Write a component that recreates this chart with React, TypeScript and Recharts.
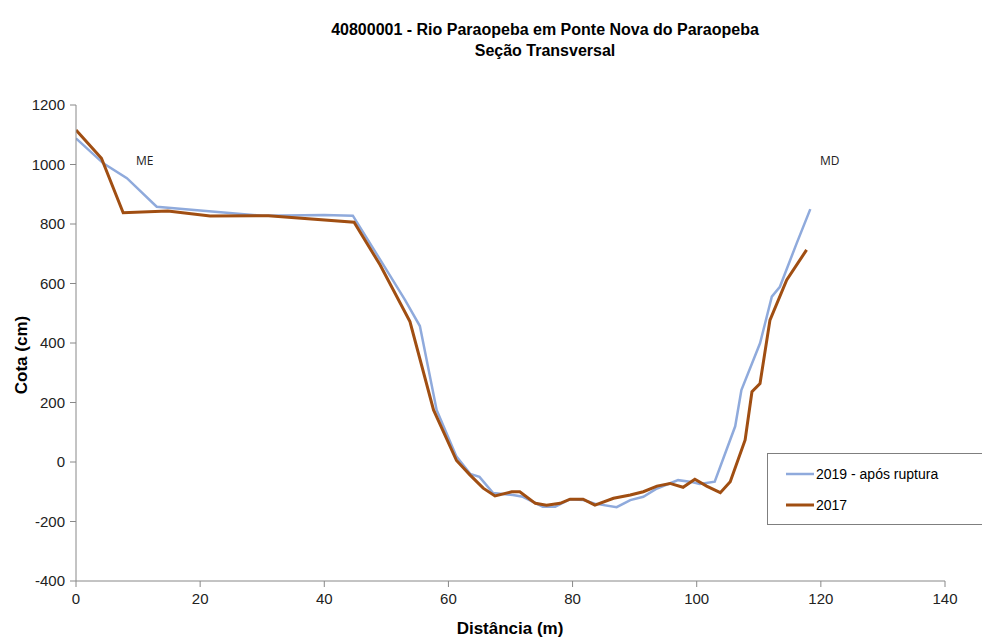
import { Line, LineChart, XAxis, YAxis } from "recharts";

const xTicks = [0, 20, 40, 60, 80, 100, 120, 140];
const yTicks = [-400, -200, 0, 200, 400, 600, 800, 1000, 1200];

// 2019 - após ruptura: [distância (m), cota (cm)]
const dist2019 = [
  0, 4.4, 8.2, 13, 20, 30, 40, 44.6, 49, 53, 55.4, 58.1, 61.3, 63.5, 65, 67.2, 70.4, 72, 75.2,
  77.2, 79.6, 81.7, 83.6, 87.1, 89.3, 91.4, 93.6, 97, 98.9, 100.5, 102.9, 106.2, 107.2, 110.2,
  112.1, 113.4, 116.1, 118.3,
];
const cota2019 = [
  1088, 1004, 954, 858, 845, 828, 830, 828, 680, 545, 457, 175, 18, -40, -50, -104, -111, -117,
  -150, -150, -125, -128, -140, -152, -128, -117, -89, -61, -66, -74, -66, 120, 242, 399, 556, 589,
  735, 850,
];

// 2017
const dist2017 = [
  0, 4.1, 7.6, 14.8, 21.6, 31, 44.8, 49, 53.8, 57.6, 61.3, 63.5, 65.6, 67.5, 70.2, 71.5, 74, 75.8,
  78, 79.6, 81.7, 83.6, 86.6, 89.3, 91.4, 93.6, 95.7, 97.8, 99.7, 101.6, 103.8, 105.4, 107.8, 108.9,
  110.2, 111.8, 114.5, 117.7,
];
const cota2017 = [
  1116, 1021, 838, 844, 827, 828, 806, 662, 472, 175, 5, -44, -88, -114, -100, -100, -139, -145,
  -139, -125, -125, -145, -122, -111, -100, -81, -72, -85, -58, -81, -103, -66, 74, 236, 264, 477,
  612, 713,
];

const serie2019 = dist2019.map((x, i) => ({ x, y: cota2019[i] }));
const serie2017 = dist2017.map((x, i) => ({ x, y: cota2017[i] }));

const BLUE = "#8FAADC";
const BROWN = "#A04E12";
const FONT = "'Liberation Sans', Arial, sans-serif";

function LegendBox() {
  const items = [
    { label: "2019 - após ruptura", color: BLUE, w: 2.5 },
    { label: "2017", color: BROWN, w: 3 },
  ];
  return (
    <div
      style={{
        position: "absolute",
        left: 767,
        top: 453,
        width: 220,
        boxSizing: "border-box",
        border: "1px solid #7f7f7f",
        background: "#fff",
        padding: "4px 0 4px 18px",
        fontFamily: FONT,
        fontSize: 14,
        color: "#000",
      }}
    >
      {items.map((it) => (
        <div key={it.label} style={{ display: "flex", alignItems: "center", height: 31 }}>
          <svg width={28} height={6} style={{ marginRight: 2 }}>
            <line x1={0} y1={3} x2={28} y2={3} stroke={it.color} strokeWidth={it.w} />
          </svg>
          <span>{it.label}</span>
        </div>
      ))}
    </div>
  );
}

export default function App() {
  return (
    <div style={{ position: "fixed", left: 0, top: 0, width: 982, height: 639, background: "#fff" }}>
      <LineChart width={982} height={639} margin={{ top: 105, right: 37, bottom: 0, left: 16 }}>
        <text x={545} y={35} textAnchor="middle" fontFamily={FONT} fontSize={16} fontWeight="bold">
          40800001 - Rio Paraopeba em Ponte Nova do Paraopeba
        </text>
        <text x={545} y={56} textAnchor="middle" fontFamily={FONT} fontSize={16} fontWeight="bold">
          Seção Transversal
        </text>
        <text x={136} y={165} fontFamily="'Open Sans', sans-serif" fontSize={12} fill="#222">
          ME
        </text>
        <text x={820} y={165} fontFamily="'Open Sans', sans-serif" fontSize={12} fill="#222">
          MD
        </text>
        <text
          x={0}
          y={0}
          transform="translate(27,355) rotate(-90)"
          textAnchor="middle"
          fontFamily={FONT}
          fontSize={17}
          fontWeight="bold"
        >
          Cota (cm)
        </text>
        <text x={510} y={634} textAnchor="middle" fontFamily={FONT} fontSize={17} fontWeight="bold">
          Distância (m)
        </text>
        <XAxis
          type="number"
          dataKey="x"
          domain={[0, 140]}
          ticks={xTicks}
          height={58}
          stroke="#888"
          tickSize={6}
          tickMargin={6}
          tick={{ fill: "#222", fontSize: 15, fontFamily: FONT }}
          allowDataOverflow
        />
        <YAxis
          type="number"
          dataKey="y"
          domain={[-400, 1200]}
          ticks={yTicks}
          width={60}
          stroke="#888"
          tickSize={6}
          tickMargin={5}
          tick={{ fill: "#222", fontSize: 15, fontFamily: FONT }}
          allowDataOverflow
        />
        <Line
          data={serie2019}
          dataKey="y"
          type="linear"
          stroke={BLUE}
          strokeWidth={2.5}
          dot={false}
          isAnimationActive={false}
        />
        <Line
          data={serie2017}
          dataKey="y"
          type="linear"
          stroke={BROWN}
          strokeWidth={3}
          dot={false}
          isAnimationActive={false}
        />
      </LineChart>
      <LegendBox />
    </div>
  );
}
